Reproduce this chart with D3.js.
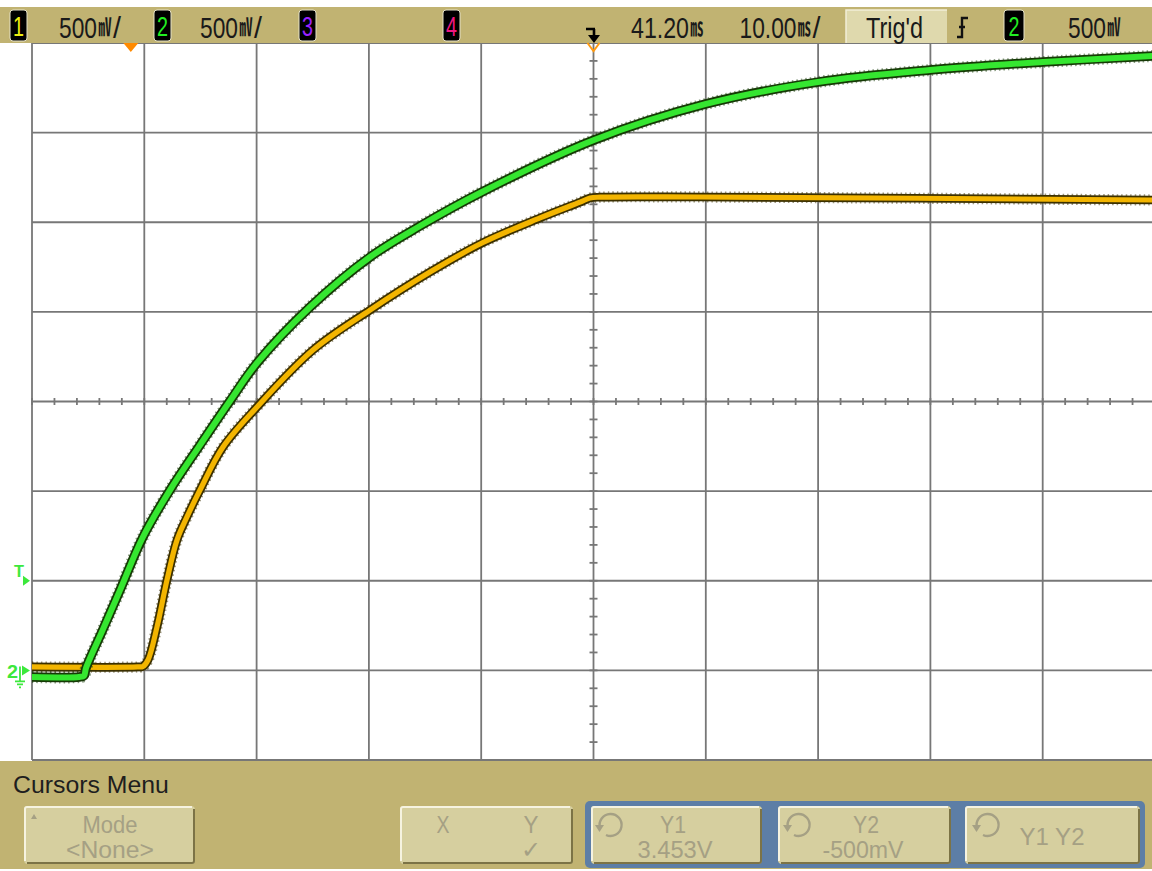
<!DOCTYPE html>
<html><head><meta charset="utf-8">
<script src="https://cdn.jsdelivr.net/npm/d3@7"></script>
<style>body{margin:0;background:#fff;overflow:hidden}</style>
</head><body>
<svg id="c" width="1152" height="871" xmlns="http://www.w3.org/2000/svg"></svg>
<script>
// ---------------- DATA ----------------
// Channel 1 (orange) : time in ms, voltage in V
const ch1TimeMs = [-8.8, 0.6, 1.08, 1.53, 2.33, 3.22, 4.11, 5.00, 6.16, 8.21, 11.24, 16.22, 21.30, 26.64, 31.27, 36.44, 40.0, 40.89, 41.8, 50.69, 91.2];
const ch1Volts  = [0.019, 0.019, 0.022, 0.058, 0.242, 0.504, 0.727, 0.856, 1.006, 1.246, 1.469, 1.787, 2.010, 2.222, 2.384, 2.524, 2.612, 2.635, 2.640, 2.641, 2.624];
// Channel 2 (green)
const ch2TimeMs = [-8.8, -4.6, -4.17, -3.99, -2.5, -0.96, 1.08, 3.49, 6.16, 8.83, 11.24, 15.96, 21.30, 25.75, 31.27, 41.25, 51.22, 61.19, 71.17, 81.23, 91.2];
const ch2Volts  = [-0.037, -0.037, -0.030, 0.013, 0.226, 0.448, 0.744, 1.006, 1.257, 1.503, 1.715, 2.027, 2.306, 2.479, 2.669, 2.959, 3.160, 3.282, 3.349, 3.394, 3.428];

// Timebase / vertical setup
const timePerDivMs = 10, delayMs = 41.2, hDivs = 10;
const voltsPerDiv = 0.5, vDivs = 8, vTopVolts = 3.5;
const triggerLevelV = 0.5, triggerTimeMs = 0;

// Status line texts
const channelNums   = ["1", "2", "3", "4"];
const channelScales = [["500", "㎷", "/"], ["500", "㎷", "/"]];
const delayLabel    = ["41.20", "㎳"];
const timebaseLabel = ["10.00", "㎳", "/"];
const triggerState  = "Trig'd";
const triggerSrc    = "2";
const triggerLabel  = ["500", "㎷"];
// Menu texts
const menuTitle = "Cursors Menu";
const modeButton = ["Mode", "<None>"];
const xyButton = ["X", "Y", "✓"];
const y1Button = ["Y1", "3.453V"];
const y2Button = ["Y2", "-500mV"];
const y1y2Button = "Y1 Y2";

// ---------------- DRAW ----------------
const svg = d3.select("#c");
const W = 1152, H = 871;
const plot = {l: 32, t: 43, w: 1123, h: 717};
const x = d3.scaleLinear().domain([delayMs - timePerDivMs*hDivs/2, delayMs + timePerDivMs*hDivs/2]).range([plot.l, plot.l + plot.w]);
const y = d3.scaleLinear().domain([vTopVolts - voltsPerDiv*vDivs, vTopVolts]).range([plot.t + plot.h, plot.t]);

const KHAKI = "#c1b372", BTN = "#d6cf9f", BTNTXT = "#a5a084", FONT = "Liberation Sans, Arial, sans-serif";
const GRID = "#777777";

svg.append("rect").attr("width", W).attr("height", H).attr("fill", "#fff");

// grid
const grid = svg.append("g");
const vLines = d3.range(hDivs + 1).map(i => x.domain()[0] + i*timePerDivMs);
const hLines = d3.range(vDivs + 1).map(i => y.domain()[0] + i*voltsPerDiv);
grid.selectAll(".vl").data(vLines).join("line")
  .attr("x1", d => x(d)).attr("x2", d => x(d)).attr("y1", plot.t).attr("y2", plot.t + plot.h)
  .attr("stroke", GRID).attr("stroke-width", 1.8);
grid.selectAll(".hl").data(hLines).join("line")
  .attr("x1", plot.l).attr("x2", W).attr("y1", d => y(d)).attr("y2", d => y(d))
  .attr("stroke", GRID).attr("stroke-width", 1.8);
// minor ticks on centre axes
const cx = x(delayMs), cy = y(vTopVolts - voltsPerDiv*vDivs/2);
const tMinor = d3.range(0, hDivs*5 + 1).map(i => x.domain()[0] + i*timePerDivMs/5);
const vMinor = d3.range(0, vDivs*5 + 1).map(i => y.domain()[0] + i*voltsPerDiv/5);
grid.selectAll(".tm").data(tMinor).join("line")
  .attr("x1", d => x(d)).attr("x2", d => x(d)).attr("y1", cy - 3.5).attr("y2", cy + 3.5)
  .attr("stroke", GRID).attr("stroke-width", 1.8);
grid.selectAll(".vm").data(vMinor).join("line")
  .attr("x1", cx - 4).attr("x2", cx + 4).attr("y1", d => y(d)).attr("y2", d => y(d))
  .attr("stroke", GRID).attr("stroke-width", 1.8);

// traces
svg.append("clipPath").attr("id", "pc").append("rect")
  .attr("x", plot.l).attr("y", plot.t).attr("width", W - plot.l).attr("height", plot.h);
const tr = svg.append("g").attr("clip-path", "url(#pc)");
const line = d3.line().x(d => x(d[0])).y(d => y(d[1])).curve(d3.curveCatmullRom.alpha(0.5));
const ch1 = ch1TimeMs.map((t, i) => [t, ch1Volts[i]]);
const ch2 = ch2TimeMs.map((t, i) => [t, ch2Volts[i]]);
function trace(data, dark, col, w) {
  tr.append("path").attr("d", line(data)).attr("fill", "none").attr("stroke", dark)
    .attr("stroke-width", w + 3.5).attr("stroke-linejoin", "round");
  tr.append("path").attr("d", line(data)).attr("fill", "none").attr("stroke", dark)
    .attr("stroke-width", w + 6).attr("stroke-dasharray", "1.5 3").attr("opacity", 0.5);
  tr.append("path").attr("d", line(data)).attr("fill", "none").attr("stroke", col)
    .attr("stroke-width", w).attr("stroke-linejoin", "round");
}
trace(ch1, "#3b3000", "#f3b500", 5.2);
trace(ch2, "#163a06", "#35e630", 6);

// ---------------- text helper: condensed text of exact width via scale transform ----------------
function ft(parent, xx, yy, s, fs, width, opts = {}) {
  const g = parent.append("g");
  const e = g.append("text").attr("x", 0).attr("y", 0).attr("font-size", fs)
    .attr("font-family", opts.ff || FONT).attr("fill", opts.fill || "#1a1a1a").text(s);
  if (opts.fw) e.attr("font-weight", opts.fw);
  if (opts.anchor) e.attr("text-anchor", opts.anchor);
  const nat = e.node().getComputedTextLength() || width;
  const sx = width ? width / nat : 1;
  g.attr("transform", `translate(${xx},${yy}) scale(${sx},1)`);
  return e;
}

// ---------------- status bar ----------------
svg.append("rect").attr("x", 0).attr("y", 7).attr("width", W).attr("height", 36).attr("fill", KHAKI);
const bar = svg.append("g");
function label(xx, parts, widths) {
  let cur = xx;
  parts.forEach((s, i) => {
    if (i === 1) ft(bar, cur, 36, s, 25, widths[i], {ff: "Noto Sans CJK SC", fw: "bold"});
    else ft(bar, cur, 38, s, 29, widths[i]);
    cur += widths[i] + 1.5;
  });
}
function chBox(xx, w, num, col) {
  bar.append("rect").attr("x", xx).attr("y", 10).attr("width", w).attr("height", 31).attr("rx", 3)
    .attr("fill", "#000").attr("stroke", "#e6e2c8").attr("stroke-width", 1);
  ft(bar, xx + w/2, 36, num, 28, 11, {anchor: "middle", fill: col});
}
const chColors = ["#eeee10", "#22ee22", "#9a22ff", "#ee1880"];
[10, 154, 299, 443].forEach((bx, i) => chBox(bx, 17, channelNums[i], chColors[i]));
label(59, channelScales[0], [38, 13, 8]);
label(200, channelScales[1], [38, 13, 8]);
// trigger arrow icon
bar.append("path").attr("d", "M586,29 H595 M594,29 V37").attr("stroke", "#000").attr("stroke-width", 2.6).attr("fill", "none");
bar.append("path").attr("d", "M588,35 L600,35 L594,43 Z").attr("fill", "#000");
label(631, delayLabel, [58, 13]);
label(739.5, timebaseLabel, [57, 13, 8]);
// Trig'd box
bar.append("rect").attr("x", 846).attr("y", 10).attr("width", 101).attr("height", 33).attr("fill", "#dfd9ad");
bar.append("path").attr("d", "M846,43 V10 H947").attr("stroke", "#f2eed8").attr("stroke-width", 1.5).attr("fill", "none");
ft(bar, 866, 38, triggerState, 29, 57);
// rising edge symbol
bar.append("path").attr("d", "M957,37 H962 V18 H968 M959,27 H965").attr("stroke", "#111").attr("stroke-width", 2.4).attr("fill", "none");
chBox(1004, 20, triggerSrc, "#22ee22");
label(1068, triggerLabel, [38, 13]);

// markers in plot
svg.append("path").attr("d", `M${x(triggerTimeMs)-7.5},43 L${x(triggerTimeMs)+7.5},43 L${x(triggerTimeMs)},52 Z`).attr("fill", "#ff8a00");
svg.append("path").attr("d", `M${cx-6},43 L${cx},51 L${cx+6},43`).attr("stroke", "#ff9a10").attr("stroke-width", 2).attr("fill", "none");
const mk = svg.append("g").attr("fill", "#3ce83c");
const ty = y(triggerLevelV);
ft(mk, 14, ty - 4, "T", 17, 10, {fill: "#3ce83c", fw: "bold"});
mk.append("path").attr("d", `M23,${ty-5} L30,${ty} L23,${ty+5} Z`);
const gy = y(0);
ft(mk, 7, gy + 8, "2", 19, 11, {fill: "#3ce83c", fw: "bold"});
mk.append("path").attr("d", `M22,${gy-5} L30,${gy} L22,${gy+5} Z`);
mk.append("path").attr("d", `M20,${gy-4} V${gy+10} M15,${gy+11} H25 M17,${gy+14} H23 M19,${gy+17} H21`)
  .attr("stroke", "#3ce83c").attr("stroke-width", 1.8).attr("fill", "none");

// ---------------- bottom menu ----------------
svg.append("rect").attr("x", 0).attr("y", 761).attr("width", W).attr("height", 108).attr("fill", KHAKI);
svg.append("rect").attr("x", 585).attr("y", 801).attr("width", 560).attr("height", 67).attr("rx", 5).attr("fill", "#5d7ea6");
const menu = svg.append("g");
ft(menu, 13, 793, menuTitle, 24, 156, {fill: "#1e1e1e"});
function button(bx, by, w, h) {
  menu.append("rect").attr("x", bx).attr("y", by).attr("width", w).attr("height", h).attr("rx", 4).attr("fill", BTN);
  menu.append("path").attr("d", `M${bx+1},${by+h-3} V${by+3} Q${bx+1},${by+1} ${bx+3},${by+1} H${bx+w-3}`)
    .attr("stroke", "#f6f3e0").attr("stroke-width", 2).attr("fill", "none");
  menu.append("path").attr("d", `M${bx+w-1},${by+3} V${by+h-3} Q${bx+w-1},${by+h-1} ${bx+w-3},${by+h-1} H${bx+3}`)
    .attr("stroke", "#7c7346").attr("stroke-width", 2).attr("fill", "none");
}
function btxt(xx, yy, s, len) {
  return ft(menu, xx, yy, s, 24, len, {anchor: "middle", fill: BTNTXT});
}
function knob(kx, ky) {
  menu.append("path").attr("d", `M${kx-10},${ky+3} A11,11 0 1 1 ${kx-4},${ky+10}`)
    .attr("stroke", BTNTXT).attr("stroke-width", 2.4).attr("fill", "none");
  menu.append("path").attr("d", `M${kx-15},${ky} L${kx-6},${ky} L${kx-10.5},${ky+7} Z`).attr("fill", BTNTXT);
}
button(24, 806, 171, 58);
menu.append("path").attr("d", "M31,819 L34,814 L37,819 Z").attr("fill", BTNTXT);
btxt(110, 833, modeButton[0], 55);
btxt(110, 858, modeButton[1], 88);
button(400, 806, 173, 58);
btxt(443, 833, xyButton[0], 13);
btxt(531, 833, xyButton[1], 15);
btxt(531, 858, xyButton[2], 20);
button(591, 806, 171, 58);
knob(610, 825);
btxt(673, 833, y1Button[0], 26);
btxt(675, 858, y1Button[1], 75);
button(778, 806, 173, 58);
knob(798, 825);
btxt(866, 833, y2Button[0], 26);
btxt(863, 858, y2Button[1], 81);
button(965, 806, 175, 58);
knob(987, 825);
btxt(1052, 845, y1y2Button, 65);
</script>
</body></html>
